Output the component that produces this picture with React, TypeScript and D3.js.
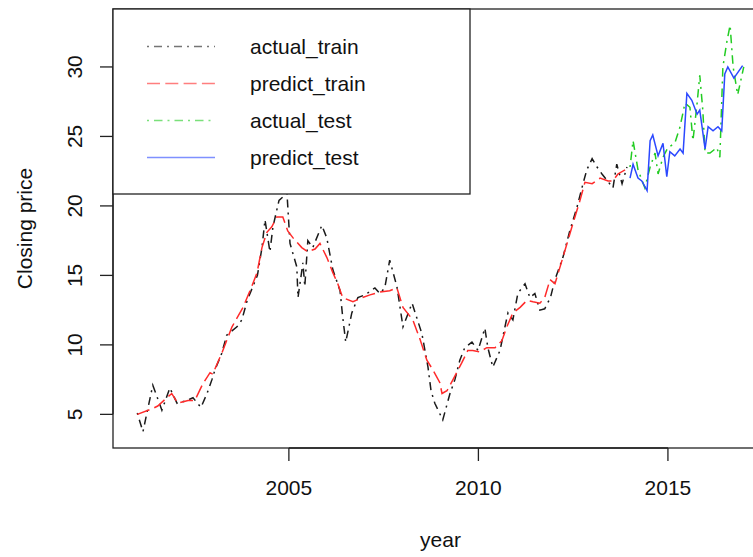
import React from "react";
import * as d3 from "d3";

// actual closing price, training period
const trainYears = [
  2001.0, 2001.15, 2001.41, 2001.65, 2001.86, 2002.05, 2002.31, 2002.47, 2002.68, 2002.84,
  2002.97, 2003.05, 2003.23, 2003.36, 2003.63, 2003.76, 2003.9, 2004.17, 2004.29, 2004.37,
  2004.5, 2004.58, 2004.74, 2004.95, 2005.03, 2005.21, 2005.24, 2005.37, 2005.42, 2005.5,
  2005.63, 2005.87, 2006.0, 2006.16, 2006.35, 2006.42, 2006.5, 2006.66, 2006.82, 2007.01,
  2007.27, 2007.4, 2007.53, 2007.66, 2007.85, 2008.01, 2008.25, 2008.51, 2008.67, 2008.75,
  2008.85, 2009.06, 2009.25, 2009.38, 2009.51, 2009.64, 2009.83, 2009.99, 2010.17, 2010.25,
  2010.38, 2010.57, 2010.7, 2010.78, 2010.91, 2011.04, 2011.23, 2011.36, 2011.49, 2011.62,
  2011.75, 2011.9, 2012.02, 2012.23, 2012.41, 2012.6, 2012.76, 2012.86, 2013.0, 2013.13,
  2013.26, 2013.55, 2013.65, 2013.79, 2013.92,
];
const actualTrain = [
  5.1, 3.75, 7.1, 5.3, 6.9, 5.8, 6.0, 6.2, 5.5, 6.5,
  7.5, 8.2, 9.4, 10.7, 11.3, 11.8, 13.2, 15.0, 17.0, 19.0,
  16.7, 18.5, 20.4, 20.9, 17.3, 15.6, 13.4, 15.9, 14.2, 17.5,
  17.0, 18.6, 17.7, 15.4, 13.9, 12.0, 10.2, 12.3, 13.4, 13.6,
  14.1, 13.7, 14.1, 16.1, 14.2, 11.3, 13.0, 10.8, 8.4, 6.7,
  5.8, 4.6, 6.5, 7.5, 8.9, 9.8, 10.2, 9.6, 11.2, 9.8,
  8.4, 9.6, 11.3, 12.3, 11.8, 13.7, 14.4, 13.4, 13.7, 12.5,
  12.6, 13.4, 14.7, 16.3, 18.2, 19.9, 21.6, 22.6, 23.4, 22.8,
  22.3, 21.3, 23.0, 21.6, 22.8,
];

// fitted values, training period
const fitYears = [
  2001.0, 2001.39, 2001.54, 2001.78, 2001.91, 2002.07, 2002.34, 2002.52, 2002.73, 2002.92,
  2002.99, 2003.23, 2003.5, 2003.79, 2004.02, 2004.16, 2004.29, 2004.42, 2004.55, 2004.68,
  2004.84, 2004.97, 2005.11, 2005.34, 2005.5, 2005.69, 2005.82, 2006.0, 2006.16, 2006.29,
  2006.42, 2006.69, 2006.93, 2007.14, 2007.4, 2007.66, 2007.85, 2008.01, 2008.27, 2008.46,
  2008.64, 2008.8, 2008.98, 2009.04, 2009.17, 2009.33, 2009.56, 2009.72, 2009.85, 2010.04,
  2010.22, 2010.44, 2010.62, 2010.75, 2010.91, 2011.1, 2011.28, 2011.44, 2011.62, 2011.75,
  2011.89, 2012.02, 2012.23, 2012.49, 2012.68, 2012.81, 2013.0, 2013.21, 2013.42, 2013.55,
  2013.68, 2013.87,
];
const predictTrain = [
  5.0, 5.4, 5.6, 6.2, 6.5, 5.8, 6.0, 6.0, 7.2, 8.0,
  7.9, 9.4, 11.3, 12.7, 14.2, 15.2, 17.0, 18.1, 18.5, 19.2,
  19.2, 18.2, 17.7, 17.0, 16.7, 16.9, 17.3, 16.3, 15.2, 14.4,
  13.4, 13.1, 13.4, 13.6, 13.8, 13.9, 14.1, 12.7, 11.8, 10.4,
  8.9, 8.2, 7.3, 6.5, 6.7, 7.5, 8.7, 9.6, 9.6, 9.5,
  9.8, 9.8, 10.3, 11.3, 12.3, 12.7, 13.2, 13.1, 13.0, 13.4,
  14.7, 14.4, 16.3, 18.7, 20.4, 21.7, 21.6, 22.0, 21.8, 21.8,
  22.3, 22.6,
];

// test period
const testYears = [
  2014.0, 2014.08, 2014.21, 2014.39, 2014.53, 2014.66, 2014.74, 2014.87, 2015.0, 2015.18,
  2015.32, 2015.45, 2015.58, 2015.66, 2015.77, 2015.84, 2015.92, 2015.98, 2016.11, 2016.29,
  2016.37, 2016.45, 2016.56, 2016.64, 2016.72, 2016.84, 2017.0,
];
const actualTest = [
  22.8, 24.7, 22.6, 21.3, 22.8, 23.8, 22.3, 23.5, 24.2, 24.5,
  25.7, 27.4, 27.1, 24.7, 27.4, 29.4, 26.9, 23.8, 23.8, 24.2,
  23.5, 30.0, 31.9, 33.0, 30.0, 28.0, 30.0,
];
const predYears = [
  2014.0, 2014.08, 2014.21, 2014.31, 2014.45, 2014.53, 2014.6, 2014.74, 2014.87, 2014.97,
  2015.05, 2015.18, 2015.32, 2015.4, 2015.5, 2015.63, 2015.77, 2015.84, 2015.98, 2016.06,
  2016.19, 2016.32, 2016.42, 2016.5, 2016.58, 2016.74, 2016.97,
];
const predictTest = [
  22.0, 23.0, 22.0, 21.8, 21.1, 24.7, 25.1, 23.6, 24.5, 22.1,
  23.9, 23.6, 24.1, 23.8, 28.1, 27.6, 26.6, 26.9, 24.1, 25.7,
  25.4, 25.7, 25.4, 29.5, 30.0, 29.2, 30.1,
];

const xTicks = [2005, 2010, 2015];
const yTicks = [5, 10, 15, 20, 25, 30];
const legendLabels = ["actual_train", "predict_train", "actual_test", "predict_test"];

const W = 753;
const H = 557;
const left = 113;
const right = 768;
const top = 9;
const bottom = 448;
const font = "'Liberation Sans', Arial, Helvetica, sans-serif";

const styles = [
  { color: "#1a1a1a", dash: "2,5,8,5" },
  { color: "#ff2a2a", dash: "13,5.3" },
  { color: "#22cc22", dash: "2,5,8.5,5" },
  { color: "#2b48ff", dash: null },
];

export default function App() {
  const allYears = [...trainYears, ...testYears];
  const allVals = [...actualTrain, ...predictTrain, ...actualTest, ...predictTest];
  const [x0, x1] = d3.extent(allYears) as [number, number];
  const [y0, y1] = d3.extent(allVals) as [number, number];
  const px = (x1 - x0) * 0.04;
  const py = (y1 - y0) * 0.04;
  const x = d3.scaleLinear().domain([x0 - px, x1 + px]).range([left, right]);
  const y = d3.scaleLinear().domain([y0 - py, y1 + py]).range([bottom, top]);

  const line = d3
    .line<[number, number]>()
    .x((d) => x(d[0]))
    .y((d) => y(d[1]));

  const series = [
    d3.zip(trainYears, actualTrain),
    d3.zip(fitYears, predictTrain),
    d3.zip(testYears, actualTest),
    d3.zip(predYears, predictTest),
  ];

  return (
    <svg
      width={W}
      height={H}
      style={{ position: "absolute", left: 0, top: 0, background: "#fff" }}
      fontFamily={font}
    >
      <defs>
        <clipPath id="plot">
          <rect x={left} y={top} width={right - left} height={bottom - top} />
        </clipPath>
      </defs>
      <g clipPath="url(#plot)" fill="none">
        {series.map((s, i) => (
          <path
            key={i}
            d={line(s as [number, number][]) || ""}
            stroke={styles[i].color}
            strokeWidth={1.5}
            strokeDasharray={styles[i].dash || undefined}
          />
        ))}
      </g>
      <rect x={left} y={top} width={right - left} height={bottom - top} fill="none" stroke="#222" strokeWidth={1.3} />

      {/* x axis */}
      <line x1={x(xTicks[0])} x2={x(xTicks[xTicks.length - 1])} y1={bottom} y2={bottom} stroke="#222" strokeWidth={1.3} />
      {xTicks.map((t) => (
        <g key={t}>
          <line x1={x(t)} x2={x(t)} y1={bottom} y2={bottom + 13} stroke="#222" strokeWidth={1.3} />
          <text x={x(t)} y={495} textAnchor="middle" fontSize={21} fill="#111">
            {t}
          </text>
        </g>
      ))}

      {/* y axis */}
      <line x1={left} x2={left} y1={y(yTicks[0])} y2={y(yTicks[yTicks.length - 1])} stroke="#222" strokeWidth={1.3} />
      {yTicks.map((t) => (
        <g key={t}>
          <line x1={left - 13} x2={left} y1={y(t)} y2={y(t)} stroke="#222" strokeWidth={1.3} />
          <text transform={`translate(82,${y(t)}) rotate(-90)`} textAnchor="middle" fontSize={21} fill="#111">
            {t}
          </text>
        </g>
      ))}

      <text x={(left + right) / 2} y={547} textAnchor="middle" fontSize={21} fill="#111">
        year
      </text>
      <text transform={`translate(32,${(top + bottom) / 2}) rotate(-90)`} textAnchor="middle" fontSize={21} fill="#111">
        Closing price
      </text>

      {/* legend */}
      <rect x={left} y={top} width={357} height={185} fill="#fff" stroke="#222" strokeWidth={1.3} />
      {legendLabels.map((lab, i) => {
        const ly = 46.5 + i * 37;
        return (
          <g key={lab}>
            <line
              x1={147}
              x2={215}
              y1={ly}
              y2={ly}
              stroke={styles[i].color}
              strokeWidth={1.5}
              strokeDasharray={styles[i].dash || undefined}
              opacity={0.6}
            />
            <text x={250} y={ly + 7.5} fontSize={21} fill="#111">
              {lab}
            </text>
          </g>
        );
      })}
    </svg>
  );
}
